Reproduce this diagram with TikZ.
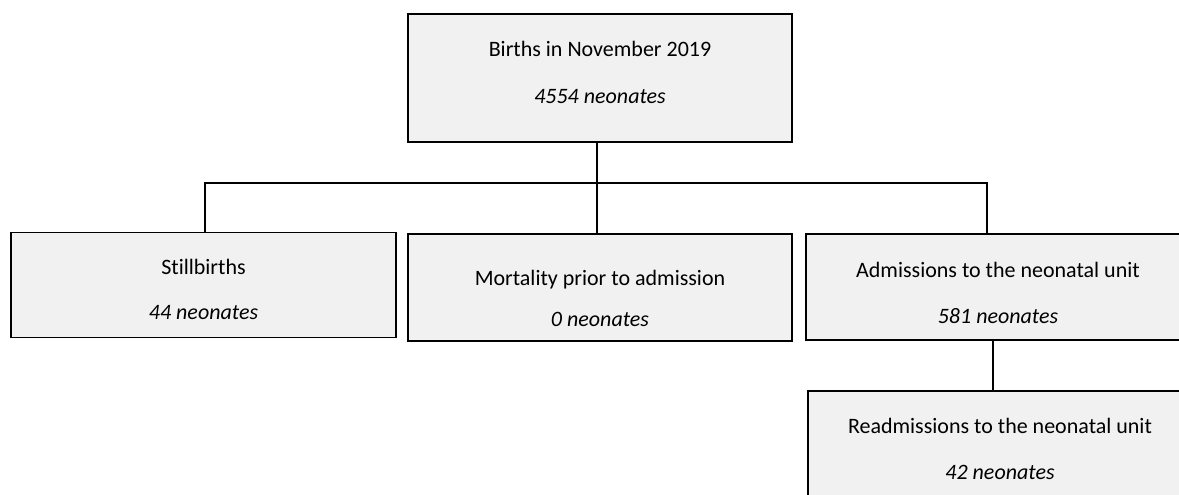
\documentclass[tikz,border=0pt]{standalone}
\usepackage{fontspec}
\setmainfont{Carlito}[Ligatures={NoCommon}]
\definecolor{boxgray}{RGB}{241,241,241}
\begin{document}
\begin{tikzpicture}[x=1pt,y=-1pt,
  box/.style={draw=black, line width=1.9pt, fill=boxgray, rectangle, inner sep=0pt},
  title/.style={font=\fontsize{22}{26}\selectfont, inner sep=0pt, anchor=base},
  count/.style={font=\fontsize{22}{26}\selectfont\itshape, inner sep=0pt, anchor=base},
  link/.style={draw=black, line width=1.9pt}]
\fill[white] (0,0) rectangle (1179,495);
\useasboundingbox (0,0) rectangle (1179,495);
\clip (0,0) rectangle (1179,495);

% boxes
\node[box, minimum width=384pt, minimum height=128pt] (births) at (600,78) {};
\node[box, minimum width=385pt, minimum height=105pt] (still) at (203.5,285) {};
\node[box, minimum width=384pt, minimum height=107pt] (mort) at (600,287.5) {};
\node[box, minimum width=384pt, minimum height=106pt] (adm) at (998,287) {};
\node[box, minimum width=384pt, minimum height=112pt] (readm) at (1000,447) {};

% texts
\node[title] (birthsT) at (600,57) {Births in November 2019};
\node[count] (birthsN) at (600,103) {4554 neonates};
\node[title] (stillT) at (203.5,274.3) {Stillbirths};
\node[count] (stillN) at (203.5,319) {44 neonates};
\node[title] (mortT) at (600,285.7) {Mortality prior to admission};
\node[count] (mortN) at (600,326.7) {0 neonates};
\node[title] (admT) at (998,277.3) {Admissions to the neonatal unit};
\node[count] (admN) at (998,323.3) {581 neonates};
\node[title] (readmT) at (1000,433.3) {Readmissions to the neonatal unit};
\node[count] (readmN) at (1000,479) {42 neonates};

% connectors
\draw[link] ([xshift=-3pt]births.south) -- ([xshift=-3pt]mort.north);
\draw[link] ([xshift=1.5pt]still.north) -- ++(0,-49) -| ([xshift=-11pt]adm.north);
\draw[link] ([xshift=-5pt]adm.south) -- ([xshift=-5pt]adm.south |- readm.north);
\end{tikzpicture}
\end{document}
